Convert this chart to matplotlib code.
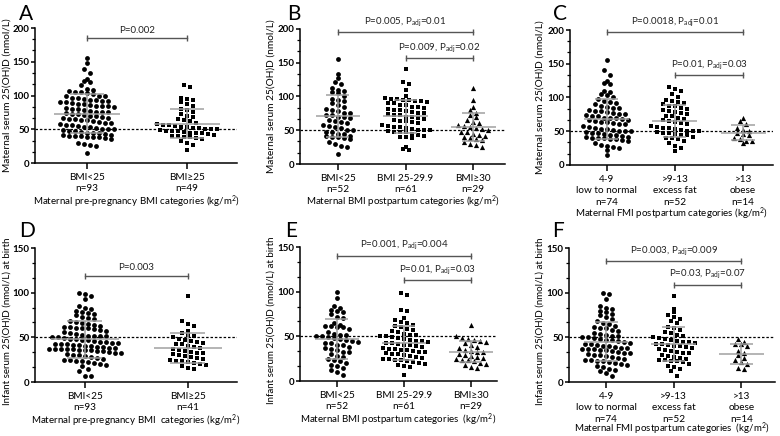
import matplotlib
matplotlib.use("Agg")
import matplotlib.pyplot as plt
from matplotlib.ticker import MultipleLocator, AutoMinorLocator
import numpy as np

plt.rcParams['font.family'] = ['Lato', 'DejaVu Sans']
plt.rcParams['mathtext.fontset'] = 'custom'
plt.rcParams['mathtext.rm'] = 'Lato'
plt.rcParams['mathtext.it'] = 'Lato:italic'

# ---- values (nmol/L) ----
# A: maternal, pre-pregnancy BMI
a_bmi_lt25 = [155, 148, 140, 133, 125, 122, 120, 115,
              110, 108, 107, 105, 105, 103, 102, 100, 100, 99,
              97, 96, 95, 94, 93, 92, 92, 90, 90, 89,
              88, 87, 86, 85, 85, 84, 83, 82, 80, 80,
              78, 77, 76, 75, 75, 74, 73, 72, 71, 70,
              69, 68, 67, 66, 65, 65, 64, 63, 62, 61,
              60, 59, 58, 57, 56, 55, 54, 53, 52, 51,
              50, 50, 49, 48, 47, 46, 45, 45, 44, 43,
              42, 41, 40, 40, 40, 39, 38, 38, 37, 36,
              30, 28, 26, 25, 15]
a_bmi_ge25 = [115, 113, 97, 95, 93, 90, 87, 85, 80, 78, 75, 72, 70, 68, 65,
              63, 62, 60, 58, 57, 56, 55, 54, 53, 52, 52, 51, 50, 50, 49,
              48, 48, 47, 46, 45, 45, 44, 43, 42, 40, 40, 39, 38, 37, 36,
              33, 30, 27, 20]

# B: maternal, BMI postpartum
b_bmi_lt25 = [155, 133, 128, 122, 118, 112, 110, 108, 107, 105, 100, 97, 95,
              93, 90, 88, 85, 82, 80, 78, 76, 75, 73, 72, 70, 70, 68, 65, 63,
              62, 60, 58, 57, 55, 53, 50, 50, 48, 47, 45, 44, 42, 41, 40, 40,
              38, 37, 33, 30, 27, 25, 15]
b_bmi_25_30 = [140, 122, 118, 110, 100, 98, 97, 96, 95, 95, 94, 93, 92, 91,
               90, 88, 87, 85, 84, 83, 82, 80, 80, 78, 77, 76, 75, 74, 73, 72,
               70, 70, 68, 67, 65, 64, 63, 62, 60, 58, 57, 55, 55, 53, 52, 51,
               50, 50, 49, 48, 48, 47, 45, 43, 42, 40, 40, 38, 25, 22, 20]
b_bmi_ge30 = [113, 95, 85, 80, 75, 72, 70, 65, 62, 60, 58, 56, 55, 53, 52,
              50, 48, 47, 45, 43, 42, 40, 38, 37, 35, 33, 30, 28, 25]

# C: maternal, FMI postpartum
c_fmi_low = [155, 140, 133, 125, 122, 120, 110, 108, 105, 103, 100, 98, 95,
             93, 92, 90, 88, 86, 85, 84, 82, 80, 80, 78, 77, 76, 75, 74, 73,
             72, 70, 70, 69, 68, 67, 66, 65, 64, 63, 62, 61, 60, 58, 57, 55,
             54, 53, 52, 51, 50, 50, 49, 48, 47, 46, 45, 44, 43, 42, 41, 40,
             40, 40, 39, 38, 37, 36, 33, 30, 28, 27, 25, 22, 15]
c_fmi_excess = [115, 113, 110, 105, 100, 97, 95, 93, 92, 90, 88, 87, 85, 83,
                82, 80, 78, 77, 75, 73, 72, 70, 68, 66, 65, 63, 62, 60, 58, 57,
                55, 55, 53, 52, 51, 50, 50, 49, 48, 47, 46, 45, 44, 42, 40, 40,
                38, 35, 32, 28, 25, 20]
c_fmi_obese = [70, 65, 60, 55, 52, 50, 48, 46, 44, 40, 38, 36, 35, 33]

# D: infant, maternal pre-pregnancy BMI
d_bmi_lt25 = [100, 98, 96, 93, 85, 83, 82, 80, 78, 77,
              76, 75, 73, 72, 70, 68, 67, 66, 65, 64,
              63, 62, 62, 61, 60, 60, 59, 58, 57, 56,
              55, 54, 53, 52, 52, 51, 51, 50, 50, 49,
              48, 48, 47, 47, 46, 45, 45, 44, 44, 43,
              42, 42, 41, 41, 40, 40, 39, 39, 38, 38,
              37, 37, 37, 37, 37, 36, 36, 36, 35, 35,
              34, 33, 32, 31, 30, 30, 29, 28, 27, 26,
              25, 25, 24, 23, 22, 21, 20, 19, 18, 15,
              12, 7, 7]
d_bmi_ge25 = [96, 68, 65, 63, 57, 55, 53, 52, 50, 48,
              47, 46, 45, 44, 43, 42, 40, 39, 38, 37,
              36, 35, 34, 33, 32, 31, 30, 29, 28, 27,
              26, 25, 24, 23, 22, 21, 20, 19, 18, 16, 15]

# E: infant, maternal BMI postpartum
e_bmi_lt25 = [100, 93, 84, 82, 80, 78, 77, 75, 72, 70,
              65, 63, 62, 62, 61, 60, 58, 55, 53, 51,
              51, 50, 50, 49, 48, 47, 46, 45, 44, 43,
              42, 40, 40, 38, 37, 36, 35, 33, 32, 30,
              28, 27, 25, 23, 22, 20, 18, 17, 15, 12, 10, 7]
e_bmi_25_30 = [98, 96, 80, 78, 70, 68, 66, 65, 63, 62,
               60, 58, 57, 56, 55, 53, 52, 51, 50, 50,
               49, 48, 47, 46, 45, 45, 44, 43, 42, 41,
               40, 40, 39, 38, 37, 36, 36, 35, 35, 34,
               33, 32, 31, 30, 30, 29, 28, 27, 26, 25,
               25, 24, 23, 22, 21, 20, 19, 18, 17, 16, 7]
e_bmi_ge30 = [63, 50, 48, 47, 46, 45, 44, 42, 40, 38, 37, 35, 34, 33, 32,
              30, 29, 28, 27, 26, 25, 24, 23, 22, 20, 19, 18, 16, 15]

# F: infant, maternal FMI postpartum
f_fmi_low = [100, 98, 93, 85, 83, 82, 80, 78, 76, 75,
             73, 70, 68, 66, 65, 63, 62, 61, 60, 58,
             57, 55, 54, 53, 52, 51, 50, 50, 49, 48,
             47, 47, 46, 45, 44, 43, 42, 41, 40, 40,
             39, 38, 38, 37, 37, 37, 36, 36, 35, 34,
             33, 32, 31, 30, 30, 29, 28, 27, 26, 25,
             25, 24, 23, 22, 21, 20, 19, 18, 17, 15,
             13, 12, 10, 7]
f_fmi_excess = [96, 82, 78, 75, 73, 70, 68, 66, 62, 60,
                58, 56, 55, 53, 52, 50, 49, 48, 47, 46,
                45, 45, 44, 43, 42, 41, 40, 40, 39, 38,
                37, 36, 35, 34, 33, 32, 30, 29, 28, 27,
                26, 25, 25, 24, 23, 22, 20, 18, 17, 15, 12, 7]
f_fmi_obese = [48, 45, 43, 42, 40, 35, 33, 30, 27, 25, 22, 20, 16, 14]

bmi2_labels = ["BMI<25\nn=93", "BMI\u226525\nn=49"]
bmi2_labels_inf = ["BMI<25\nn=93", "BMI\u226525\nn=41"]
bmi3_labels = ["BMI<25\nn=52", "BMI 25-29.9\nn=61", "BMI\u226530\nn=29"]
fmi3_labels = ["4-9\nlow to normal\nn=74", ">9-13\nexcess fat\nn=52", ">13\nobese\nn=14"]

ylab_mat = "Maternal serum 25(OH)D (nmol/L)"
ylab_inf = "Infant serum 25(OH)D (nmol/L) at birth"
xlab_a = r"Maternal pre-pregnancy BMI categories (kg/m$^\mathregular{2}$)"
xlab_b = r"Maternal BMI postpartum categories (kg/m$^\mathregular{2}$)"
xlab_c = r"Maternal FMI postpartum categories (kg/m$^\mathregular{2}$)"
xlab_d = r"Maternal pre-pregnancy BMI  categories (kg/m$^\mathregular{2}$)"
xlab_e = r"Maternal BMI postpartum categories  (kg/m$^\mathregular{2}$)"
xlab_f = r"Maternal FMI postpartum categories  (kg/m$^\mathregular{2}$)"

# comparisons: (group i, group j, bracket height, label)
cmp_a = [(0, 1, 185, "P=0.002")]
cmp_b = [(0, 2, 195, r"P=0.005, P$_\mathregular{adj}$=0.01"),
         (1, 2, 157, r"P=0.009, P$_\mathregular{adj}$=0.02")]
cmp_c = [(0, 2, 197, r"P=0.0018, P$_\mathregular{adj}$=0.01"),
         (1, 2, 133, r"P=0.01, P$_\mathregular{adj}$=0.03")]
cmp_d = [(0, 1, 119, "P=0.003")]
cmp_e = [(0, 2, 140, r"P=0.001, P$_\mathregular{adj}$=0.004"),
         (1, 2, 113, r"P=0.01, P$_\mathregular{adj}$=0.03")]
cmp_f = [(0, 2, 135, r"P=0.003, P$_\mathregular{adj}$=0.009"),
         (1, 2, 109, r"P=0.03, P$_\mathregular{adj}$=0.07")]

W, H = 780, 436
fig = plt.figure(figsize=(W / 100, H / 100), dpi=100)

# letter, axes box px (left, top, right, bottom), xlim, ymax, groups, tick labels,
# ylabel, xlabel, comparisons, letter pos px, ylabel centre x px, xlabel centre y px
panels = [
    ("A", (35, 28, 237, 163), (-0.52, 1.50), 200, [a_bmi_lt25, a_bmi_ge25], bmi2_labels,
     ylab_mat, xlab_a, cmp_a, (19, 4), 7, 202),
    ("B", (300, 29, 505, 164), (-0.56, 2.47), 200, [b_bmi_lt25, b_bmi_25_30, b_bmi_ge30], bmi3_labels,
     ylab_mat, xlab_b, cmp_b, (287, 4), 271, 202),
    ("C", (570, 30, 773, 165), (-0.54, 2.44), 200, [c_fmi_low, c_fmi_excess, c_fmi_obese], fmi3_labels,
     ylab_mat, xlab_c, cmp_c, (553, 4), 540, 214),
    ("D", (35, 248, 237, 382), (-0.485, 1.476), 150, [d_bmi_lt25, d_bmi_ge25], bmi2_labels_inf,
     ylab_inf, xlab_d, cmp_d, (19, 221), 7, 421),
    ("E", (300, 247, 497, 381), (-0.55, 2.39), 150, [e_bmi_lt25, e_bmi_25_30, e_bmi_ge30], bmi3_labels,
     ylab_inf, xlab_e, cmp_e, (285, 221), 271, 420),
    ("F", (569, 248, 775, 382), (-0.55, 2.50), 150, [f_fmi_low, f_fmi_excess, f_fmi_obese], fmi3_labels,
     ylab_inf, xlab_f, cmp_f, (552, 221), 540, 429),
]

markers = ["o", "s", "^"]
msizes = [12, 11, 14]
grey = "#a0a0a0"


def swarm(ax, values, xc, marker, size):
    vals = np.asarray(values, float)
    x0, x1 = ax.get_xlim()
    y0, y1 = ax.get_ylim()
    ppx = ax.bbox.width / (x1 - x0)
    ppy = ax.bbox.height / (y1 - y0)
    row = 5.6 / ppy
    dx = 6.0 / ppx
    bins = np.floor(vals / row).astype(int)
    xs = np.zeros_like(vals)
    for b in np.unique(bins):
        idx = np.where(bins == b)[0]
        k = len(idx)
        xs[idx] = xc + (np.arange(k) - (k - 1) / 2) * dx
    ax.scatter(xs, vals, marker=marker, s=size, c="black", linewidths=0, zorder=3)
    m, s = vals.mean(), vals.std(ddof=1)
    ax.hlines(m, xc - 0.33, xc + 0.33, color=grey, lw=1.1, zorder=4)
    ax.hlines([m - s, m + s], xc - 0.17, xc + 0.17, color=grey, lw=1.1, zorder=4)
    ax.vlines(xc, m - s, m + s, color=grey, lw=1.1, zorder=4)


for letter, box, xlim, ymax, groups, labels, ylab, xlab, comps, lpos, ylx, xly in panels:
    l, t, r, b = box
    ax = fig.add_axes([l / W, 1 - b / H, (r - l) / W, (b - t) / H])
    ax.set_xlim(*xlim)
    ax.set_ylim(0, ymax)
    for sp in ["top", "right"]:
        ax.spines[sp].set_visible(False)
    for sp in ["left", "bottom"]:
        ax.spines[sp].set_linewidth(1.1)
    ax.yaxis.set_major_locator(MultipleLocator(50))
    ax.yaxis.set_minor_locator(AutoMinorLocator(3))
    ax.tick_params(axis="y", which="major", length=3, width=1.1, labelsize=7, pad=0.8)
    ax.tick_params(axis="y", which="minor", length=2, width=0.9)
    for lab in ax.get_yticklabels():
        lab.set_fontweight("bold")
    ax.set_xticks(range(len(groups)))
    ax.set_xticklabels(labels, fontsize=7.2, linespacing=1.35)
    ax.tick_params(axis="x", length=4, width=1.1, pad=3)

    yl = ax.set_ylabel(ylab, fontsize=7.3 if ymax == 200 else 7.0)
    yl.set_va("center")
    ax.yaxis.set_label_coords((ylx - l) / (r - l), 0.5 if ymax == 200 else 0.45)
    xl = ax.set_xlabel(xlab, fontsize=7.0)
    xl.set_va("center")
    ax.xaxis.set_label_coords(0.5, -(xly - b) / (b - t))

    ax.axhline(50, color="black", lw=0.9, ls=(0, (2, 1.5)), zorder=2)

    for i, g in enumerate(groups):
        swarm(ax, g, i, markers[i], msizes[i])

    ppy = ax.bbox.height / ymax
    tick = 3 / ppy
    for i, j, yb, txt in comps:
        ax.plot([i, j], [yb, yb], color="#555555", lw=1, clip_on=False, zorder=5)
        ax.vlines([i, j], yb - tick, yb + tick, color="#555555", lw=1, clip_on=False, zorder=5)
        ax.annotate(txt, xy=((i + j) / 2, yb), xytext=(0, 2.5), textcoords="offset points",
                    ha="center", va="bottom", fontsize=7, color="#222222", annotation_clip=False)

    fig.text(lpos[0] / W, 1 - lpos[1] / H, letter, fontsize=15, va="top", ha="left")

fig.savefig("out.png", dpi=100)
